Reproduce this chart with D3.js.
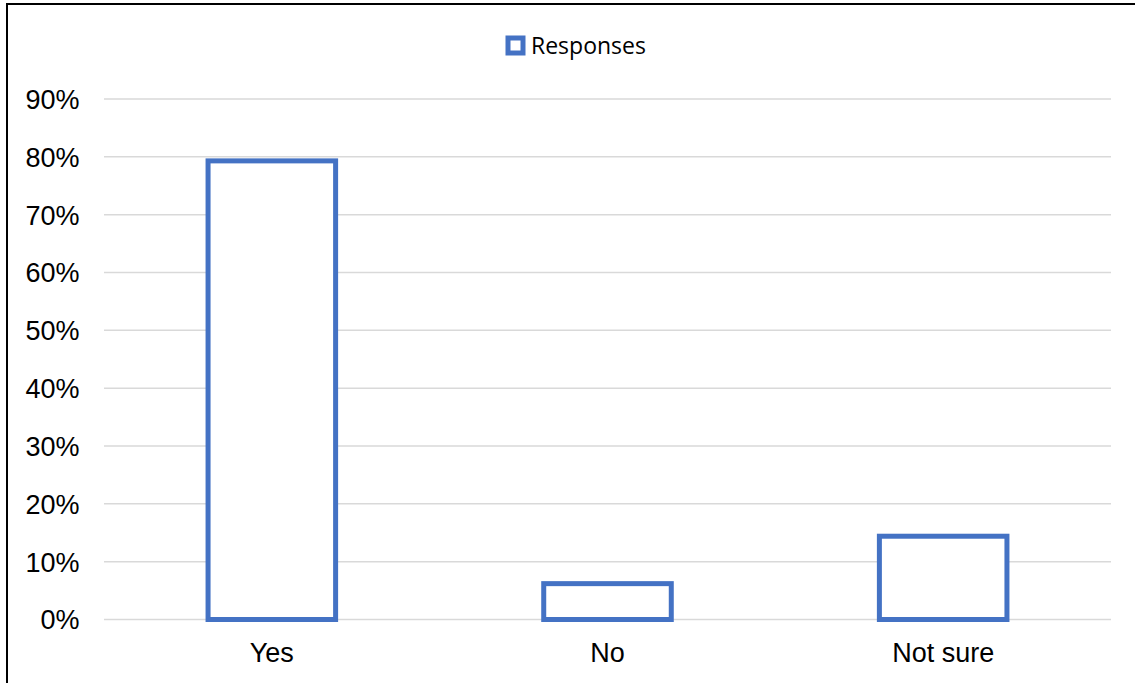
<!DOCTYPE html>
<html>
<head>
<meta charset="utf-8">
<script src="https://cdn.jsdelivr.net/npm/d3@7"></script>
<style>
  html, body { margin: 0; padding: 0; background: #fff; }
  svg { display: block; }
</style>
</head>
<body>
<svg id="chart" width="1135" height="683"></svg>
<script>
// Survey responses (share of respondents)
const categories = ["Yes", "No", "Not sure"];
const values = [0.793, 0.062, 0.144];
const seriesName = "Responses";
const yTicks = [0, 0.1, 0.2, 0.3, 0.4, 0.5, 0.6, 0.7, 0.8, 0.9];

const svg = d3.select("#chart");
const W = 1135, H = 683;
const plot = { left: 104, right: 1111, top: 99, bottom: 619.5 };
const barColor = "#4472C4";
const axisFont = "'Liberation Sans', Arial, sans-serif";

// Frame lines on the left and top edges
svg.append("line").attr("x1", 7).attr("x2", 7).attr("y1", 3).attr("y2", H)
  .attr("stroke", "#000").attr("stroke-width", 2);
svg.append("line").attr("x1", 7).attr("x2", W).attr("y1", 4).attr("y2", 4)
  .attr("stroke", "#000").attr("stroke-width", 2);

const x = d3.scaleBand().domain(categories)
  .range([plot.left, plot.right]).paddingInner(0.62).paddingOuter(0.31);
const y = d3.scaleLinear().domain([0, 0.9]).range([plot.bottom, plot.top]);

// Horizontal gridlines
svg.append("g").selectAll("line").data(yTicks).join("line")
  .attr("x1", plot.left).attr("x2", plot.right)
  .attr("y1", d => y(d)).attr("y2", d => y(d))
  .attr("stroke", "#d9d9d9").attr("stroke-width", 1.5);

// Y axis tick labels
const yAxis = d3.axisLeft(y).tickValues(yTicks).tickFormat(d3.format(".0%"))
  .tickSize(0).tickPadding(24.5);
const gy = svg.append("g").attr("transform", `translate(${plot.left},0)`).call(yAxis);
gy.select(".domain").remove();
gy.selectAll("text").attr("font-family", axisFont).attr("font-size", 27)
  .attr("fill", "#000").attr("dy", "0.35em");

// X axis category labels
const xAxis = d3.axisBottom(x).tickSize(0).tickPadding(23);
const gx = svg.append("g").attr("transform", `translate(0,${plot.bottom})`).call(xAxis);
gx.select(".domain").remove();
gx.selectAll("text").attr("font-family", axisFont).attr("font-size", 27)
  .attr("fill", "#000");

// Outlined bars
svg.append("g").selectAll("rect").data(categories).join("rect")
  .attr("x", d => x(d))
  .attr("width", x.bandwidth())
  .attr("y", (d, i) => y(values[i]))
  .attr("height", (d, i) => y(0) - y(values[i]))
  .attr("fill", "#fff")
  .attr("stroke", barColor)
  .attr("stroke-width", 5);

// Legend
const legend = svg.append("g").attr("transform", "translate(508,38)");
legend.append("rect").attr("x", 0).attr("y", 0).attr("width", 15).attr("height", 15)
  .attr("fill", "#fff").attr("stroke", barColor).attr("stroke-width", 5);
legend.append("text").attr("x", 23).attr("y", 7.5).attr("dy", "0.35em")
  .attr("font-family", "'Open Sans', Lato, sans-serif")
  .attr("font-size", 23).attr("fill", "#000").text(seriesName);
</script>
</body>
</html>
